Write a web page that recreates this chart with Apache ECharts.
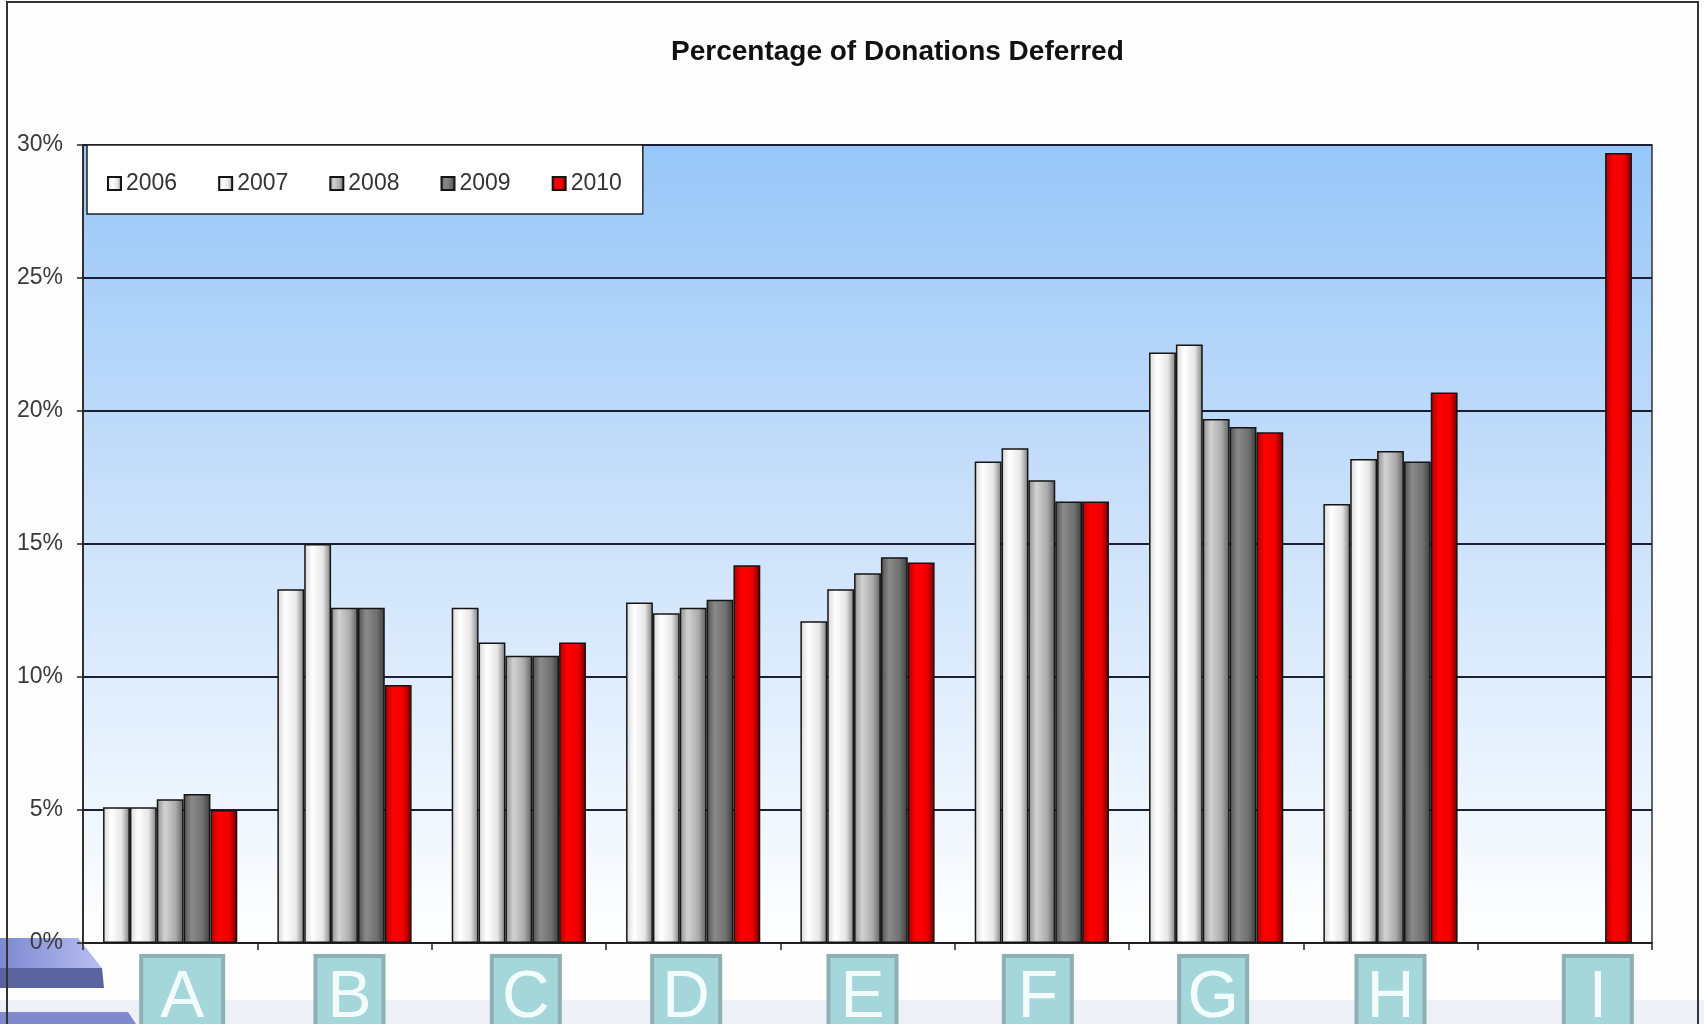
<!DOCTYPE html>
<html>
<head>
<meta charset="utf-8">
<script src="https://cdn.jsdelivr.net/npm/echarts@6/dist/echarts.min.js"></script>
<style>
  html, body { margin: 0; padding: 0; background: #fff; }
  #chart { width: 1704px; height: 1024px; }
</style>
</head>
<body>
<div id="chart"></div>
<script>
// data (percent)
const categories = ['A', 'B', 'C', 'D', 'E', 'F', 'G', 'H', 'I'];
const years = ['2006', '2007', '2008', '2009', '2010'];
const v2006 = [5.1, 13.3, 12.6, 12.8, 12.1, 18.1, 22.2, 16.5, null];
const v2007 = [5.1, 15.0, 11.3, 12.4, 13.3, 18.6, 22.5, 18.2, null];
const v2008 = [5.4, 12.6, 10.8, 12.6, 13.9, 17.4, 19.7, 18.5, null];
const v2009 = [5.6, 12.6, 10.8, 12.9, 14.5, 16.6, 19.4, 18.1, null];
const v2010 = [5.0, 9.7, 11.3, 14.2, 14.3, 16.6, 19.2, 20.7, 29.7];
const yTicks = [0, 5, 10, 15, 20, 25, 30];

const seriesData = [v2006, v2007, v2008, v2009, v2010];

// the letter tiles were hand placed on the slide; nudge (px) from slot centre
const tileNudge = [12, 5, 7, -7, -5, -4, -3, 0, 33];

// horizontal "cylinder" shading for each year
function shade(a, b, c, d) {
  return new echarts.graphic.LinearGradient(0, 0, 1, 0, [
    { offset: 0, color: a },
    { offset: 0.3, color: b },
    { offset: 0.7, color: c },
    { offset: 1, color: d }
  ]);
}
const fills = [
  shade('#d6d6d6', '#ffffff', '#e6e6e6', '#7c7c7c'),
  shade('#d6d6d6', '#ffffff', '#e6e6e6', '#7c7c7c'),
  shade('#8e8e8e', '#d2d2d2', '#ababab', '#5e5e5e'),
  shade('#4e4e4e', '#8a8a8a', '#717171', '#3c3c3c'),
  shade('#a80000', '#ff0000', '#f00000', '#6e0000')
];

const catData = categories.map(function (c, i) {
  const n = tileNudge[i];
  const pad = n >= 0 ? [0, 0, 0, 2 * n] : [0, -2 * n, 0, 0];
  return { value: c, textStyle: { padding: pad } };
});

const tileBase = {
  fontFamily: 'Liberation Sans',
  fontSize: 66,
  lineHeight: 66,
  color: '#f2fcfc',
  backgroundColor: '#a5d6da',
  borderColor: '#8fb0b3',
  borderWidth: 4,
  width: 50,
  align: 'center',
  padding: [8, 7, 20, 7]
};

const chart = echarts.init(document.getElementById('chart'));

const option = {
  backgroundColor: '#fdfdfe',
  animation: false,
  title: {
    text: 'Percentage of Donations Deferred',
    left: 666,
    top: 33,
    textStyle: {
      fontFamily: 'Liberation Sans',
      fontWeight: 'bold',
      fontSize: 28,
      color: '#111'
    }
  },
  legend: {
    left: 87,
    top: 145,
    orient: 'horizontal',
    backgroundColor: '#ffffff',
    borderColor: '#222',
    borderWidth: 1.5,
    borderRadius: 0,
    padding: [27, 21, 19, 20],
    itemWidth: 13,
    itemHeight: 13,
    itemGap: 41,
    icon: 'rect',
    textStyle: { fontFamily: 'Liberation Sans', fontSize: 23, color: '#333' },
    data: years
  },
  grid: {
    left: 83,
    right: 52,
    top: 145,
    bottom: 81,
    outerBoundsMode: 'none',
    show: true,
    borderColor: '#333',
    borderWidth: 1.5,
    backgroundColor: new echarts.graphic.LinearGradient(0, 0, 0, 1, [
      { offset: 0, color: '#97c6f8' },
      { offset: 0.45, color: '#c9e0fa' },
      { offset: 1, color: '#ffffff' }
    ])
  },
  xAxis: {
    type: 'category',
    data: catData,
    axisLine: { lineStyle: { color: '#222', width: 1.5 } },
    axisTick: { show: true, length: 7, lineStyle: { color: '#222', width: 1.5 } },
    axisLabel: {
      margin: 29,
      interval: 0,
      formatter: function (v) { return (v === 'A' ? '{wide|' : '{box|') + v + '}'; },
      rich: {
        box: tileBase,
        wide: Object.assign({}, tileBase, { padding: [8, 14, 20, 14] })
      }
    }
  },
  yAxis: {
    type: 'value',
    min: 0,
    max: 30,
    interval: 5,
    axisLine: { show: true, lineStyle: { color: '#222', width: 1.5 } },
    axisTick: { show: true, length: 6, lineStyle: { color: '#222', width: 1.5 } },
    splitLine: { lineStyle: { color: '#1c1f33', width: 1.8 } },
    axisLabel: {
      margin: 20,
      fontFamily: 'Liberation Sans',
      fontSize: 23,
      color: '#3a3a3a',
      customValues: yTicks,
      formatter: '{value}%'
    }
  },
  series: years.map(function (y, i) {
    return {
      name: y,
      type: 'bar',
      data: seriesData[i],
      barGap: '0%',
      barCategoryGap: '23%',
      itemStyle: { color: fills[i], borderColor: '#151515', borderWidth: 1.5 }
    };
  }),
  graphic: [
    // bottom band of the slide
    { type: 'rect', z: -10, silent: true, shape: { x: 0, y: 1000, width: 1704, height: 24 }, style: { fill: '#eef0f7' } },
    // slide decoration at bottom left (behind the axis labels)
    { type: 'polygon', silent: true, z: -5, shape: { points: [[0, 938], [78, 938], [102, 968], [0, 968]] },
      style: { fill: new echarts.graphic.LinearGradient(0, 0, 1, 0, [
        { offset: 0, color: '#7d88d0' }, { offset: 1, color: '#b9bff0' }]) } },
    { type: 'polygon', silent: true, z: -5, shape: { points: [[0, 968], [102, 968], [104, 988], [0, 988]] },
      style: { fill: '#59639f' } },
    { type: 'polygon', silent: true, z: -5, shape: { points: [[0, 1012], [128, 1012], [136, 1024], [0, 1024]] },
      style: { fill: '#7f89cc' } },
    // frame
    { type: 'rect', silent: true, z: 5, shape: { x: 7, y: 2, width: 1691, height: 1040 },
      style: { fill: null, stroke: '#333', lineWidth: 2 } }
  ]
};

chart.setOption(option);
window.addEventListener('resize', function () { chart.resize(); });
</script>
</body>
</html>
